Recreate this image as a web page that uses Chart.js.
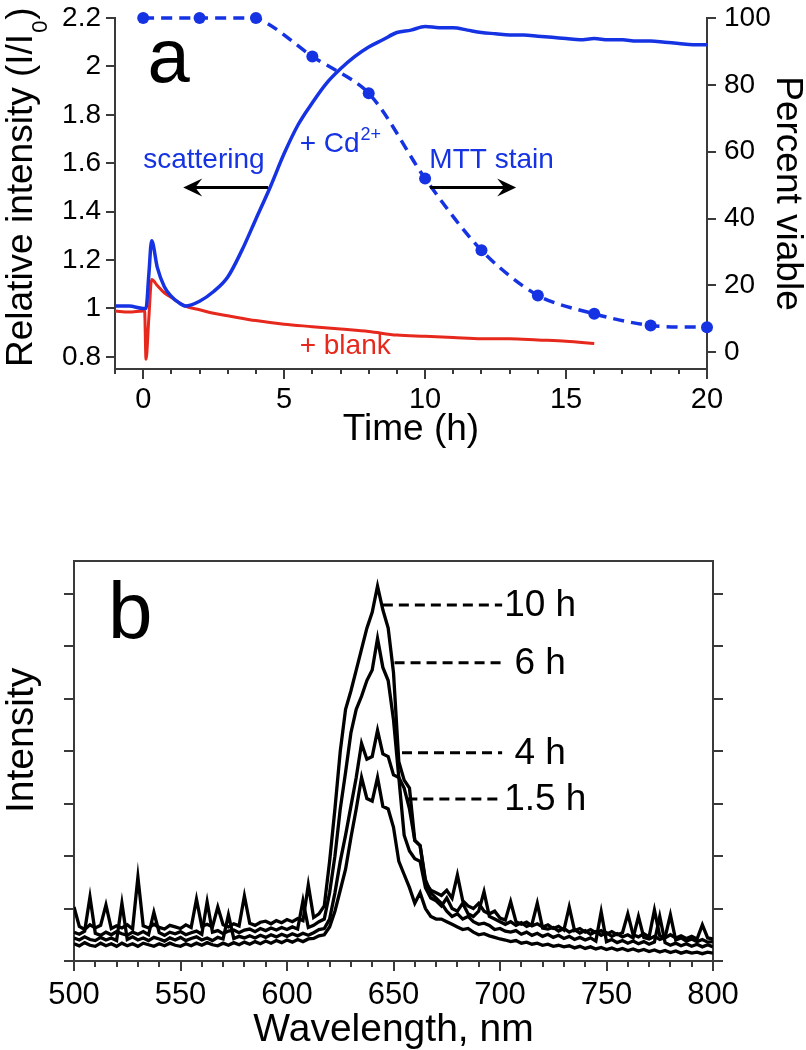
<!DOCTYPE html>
<html>
<head>
<meta charset="utf-8">
<title>Scattering and spectra</title>
<script src="https://cdn.jsdelivr.net/npm/chart.js@4.4.1/dist/chart.umd.min.js"></script>
<style>
  body { margin: 0; background: #fff; }
  #panelA { position: absolute; left: 0; top: 0; }
  #panelB { position: absolute; left: 0; top: 540px; }
</style>
</head>
<body>
<canvas id="panelA" width="806" height="460"></canvas>
<canvas id="panelB" width="806" height="510"></canvas>
<script>
// ---- panel a data ----
const cdTime = [-1, -0.5, 0, 0.1, 0.2, 0.3, 0.5, 0.75, 1, 1.25, 1.5, 2, 2.5, 3, 3.5, 4, 4.5, 5, 5.5, 6, 6.5, 7, 7.5, 8, 8.5, 9, 9.5, 10,
  10.5, 11, 11.5, 12, 12.5, 13, 13.5, 14, 14.5, 15, 15.5, 16, 16.5, 17, 17.5, 18, 18.5, 19, 19.5, 20];
const cdValues = [1.01, 1.01, 1.0, 1.0, 1.14, 1.28, 1.17, 1.09, 1.05, 1.025, 1.01, 1.03, 1.07, 1.13, 1.24, 1.37, 1.5, 1.64, 1.76, 1.85, 1.93, 1.99, 2.04, 2.08, 2.11, 2.14, 2.15, 2.165,
  2.16, 2.16, 2.15, 2.14, 2.135, 2.13, 2.13, 2.125, 2.12, 2.115, 2.11, 2.115, 2.11, 2.11, 2.105, 2.105, 2.1, 2.095, 2.09, 2.09];

const blankTime = [-1, -0.5, 0, 0.05, 0.1, 0.2, 0.3, 0.5, 0.75, 1, 1.5, 2, 2.5, 3, 4, 5, 6, 7, 8, 9, 10, 11, 12, 13, 14, 15, 16];
const blankValues = [0.99, 0.985, 0.99, 0.99, 0.79, 0.96, 1.12, 1.095, 1.065, 1.045, 1.01, 0.995, 0.98, 0.97, 0.95, 0.935, 0.925, 0.915, 0.905, 0.89, 0.885, 0.88, 0.875, 0.875, 0.87, 0.865, 0.855];

const mttTime = [0, 2, 4, 6, 8, 10, 12, 14, 16, 18, 20];
const mttValues = [100, 100, 100, 88.5, 77.5, 52, 30.5, 17, 11.5, 8, 7.5];

const timeTicks = [0, 5, 10, 15, 20];
const intensityTicks = [0.8, 1, 1.2, 1.4, 1.6, 1.8, 2, 2.2];
const viableTicks = [0, 20, 40, 60, 80, 100];

// ---- panel b data ----
const wavelength = [
  500, 502.5, 505, 507.5, 510, 512.5, 515, 517.5, 520, 522.5,
  525, 527.5, 530, 532.5, 535, 537.5, 540, 542.5, 545, 547.5,
  550, 552.5, 555, 557.5, 560, 562.5, 565, 567.5, 570, 572.5,
  575, 577.5, 580, 582.5, 585, 587.5, 590, 592.5, 595, 597.5,
  600, 602.5, 605, 607.5, 610, 612.5, 615, 617.5, 620, 622.5,
  625, 627.5, 630, 632.5, 635, 637.5, 640, 642.5, 645, 647.5,
  650, 652.5, 655, 657.5, 660, 662.5, 665, 667.5, 670, 672.5,
  675, 677.5, 680, 682.5, 685, 687.5, 690, 692.5, 695, 697.5,
  700, 702.5, 705, 707.5, 710, 712.5, 715, 717.5, 720, 722.5,
  725, 727.5, 730, 732.5, 735, 737.5, 740, 742.5, 745, 747.5,
  750, 752.5, 755, 757.5, 760, 762.5, 765, 767.5, 770, 772.5,
  775, 777.5, 780, 782.5, 785, 787.5, 790, 792.5, 795, 797.5,
  800];
const spec10h = [
  1.03, 0.66, 0.60, 0.69, 0.63, 0.68, 1.07, 0.62, 0.67, 0.63,
  0.69, 0.61, 1.60, 0.67, 0.63, 0.70, 0.64, 0.61, 0.68, 0.65,
  0.62, 0.69, 0.64, 1.18, 0.66, 0.70, 0.65, 1.03, 0.69, 0.65,
  0.71, 0.67, 1.24, 0.72, 0.68, 0.74, 0.76, 0.71, 0.77, 0.73,
  0.79, 0.75, 0.81, 0.77, 1.45, 0.83, 0.90, 1.05, 1.90, 2.90,
  4.00, 4.80, 5.15, 5.55, 5.95, 6.35, 6.65, 7.15, 6.70, 6.35,
  5.50, 3.80, 3.45, 3.30, 2.30, 2.20, 1.50, 1.35, 1.30, 1.25,
  1.35, 1.20, 1.64, 1.15, 1.05, 1.00, 1.10, 0.95, 0.90, 0.95,
  0.82, 0.78, 1.13, 0.75, 0.70, 0.74, 0.67, 0.71, 0.65, 0.69,
  0.62, 0.66, 0.59, 1.03, 0.58, 0.62, 0.55, 0.60, 0.54, 0.58,
  0.51, 0.56, 0.50, 0.54, 0.90, 0.50, 0.46, 0.52, 0.46, 0.97,
  0.48, 0.44, 0.50, 0.44, 0.48, 0.43, 0.47, 0.42, 0.69, 0.44,
  0.42];
const spec6h = [
  0.55, 0.51, 0.57, 1.22, 0.53, 0.49, 0.55, 0.50, 0.56, 0.52,
  0.49, 0.55, 0.51, 0.56, 0.50, 0.93, 0.54, 0.49, 0.55, 0.52,
  0.56, 0.50, 0.54, 0.57, 0.51, 1.13, 0.55, 0.58, 0.52, 0.57,
  0.59, 0.54, 0.59, 0.61, 0.56, 0.62, 0.58, 0.63, 0.59, 0.64,
  0.60, 0.65, 0.61, 1.15, 0.64, 0.68, 0.75, 0.80, 1.30, 2.00,
  2.90, 3.60, 4.35, 4.80, 5.05, 5.35, 5.55, 6.15, 5.60, 5.35,
  4.60, 3.50, 2.40, 2.10, 1.95, 1.90, 1.40, 1.20, 1.15, 1.05,
  1.20, 1.00, 0.95, 1.10, 0.90, 0.85, 0.95, 1.32, 0.85, 0.80,
  0.75, 0.70, 0.75, 0.68, 0.73, 0.66, 0.70, 1.10, 0.63, 0.61,
  0.64, 0.57, 0.62, 0.55, 0.60, 0.53, 0.58, 0.51, 0.56, 0.49,
  0.54, 0.47, 0.52, 0.46, 0.50, 0.44, 0.85, 0.45, 0.42, 0.47,
  0.41, 0.45, 0.88, 0.40, 0.44, 0.38, 0.42, 0.37, 0.41, 0.36,
  0.37];
const spec4h = [
  0.44, 0.40, 0.46, 0.41, 0.39, 0.45, 0.40, 0.44, 0.39, 1.10,
  0.41, 0.46, 0.40, 0.44, 0.39, 0.45, 0.42, 0.38, 0.44, 0.40,
  0.45, 0.39, 0.43, 0.46, 0.40, 0.44, 0.39, 0.45, 0.42, 0.88,
  0.43, 0.47, 0.44, 0.48, 0.44, 0.49, 0.45, 0.50, 0.46, 0.51,
  0.47, 0.52, 0.48, 0.53, 0.49, 0.54, 0.60, 0.62, 0.80, 1.30,
  1.90, 2.40, 2.95, 3.50, 4.15, 3.85, 3.90, 4.40, 3.95, 3.90,
  3.55, 3.50, 3.30, 2.90, 2.30, 2.20, 1.55, 1.30, 1.20, 1.10,
  0.95, 0.85, 0.90, 0.80, 0.85, 0.75, 0.70, 0.72, 0.68, 0.60,
  0.62, 0.57, 0.55, 0.58, 0.51, 0.55, 0.49, 0.53, 0.47, 0.51,
  0.45, 0.49, 0.43, 0.47, 0.41, 0.45, 0.40, 0.44, 0.38, 0.94,
  0.37, 0.41, 0.35, 0.39, 0.34, 0.38, 0.33, 0.37, 0.32, 0.36,
  0.85, 0.35, 0.30, 0.34, 0.29, 0.33, 0.28, 0.32, 0.27, 0.31,
  0.27];
const spec15h = [
  0.33, 0.29, 0.35, 0.30, 0.28, 0.34, 0.29, 0.33, 0.28, 0.34,
  0.29, 0.33, 0.28, 0.34, 0.31, 0.28, 0.33, 0.29, 0.34, 0.30,
  0.28, 0.33, 0.29, 0.34, 0.30, 0.35, 0.31, 0.29, 0.34, 0.30,
  0.35, 0.31, 0.36, 0.32, 0.37, 0.33, 0.38, 0.34, 0.39, 0.35,
  0.40, 0.36, 0.41, 0.37, 0.42, 0.43, 0.48, 0.50, 0.65, 0.95,
  1.35, 1.75, 2.35, 2.90, 3.50, 3.10, 3.05, 3.50, 2.95, 2.90,
  2.55, 1.90, 1.65, 1.40, 1.10, 1.30, 1.00, 0.85, 0.80, 0.80,
  0.75, 0.70, 0.65, 0.60, 0.62, 0.55, 0.50, 0.52, 0.48, 0.45,
  0.42, 0.40, 0.37, 0.39, 0.34, 0.36, 0.32, 0.34, 0.30, 0.32,
  0.28, 0.30, 0.27, 0.29, 0.25, 0.28, 0.24, 0.27, 0.23, 0.26,
  0.22, 0.25, 0.21, 0.24, 0.20, 0.23, 0.19, 0.22, 0.18, 0.21,
  0.17, 0.20, 0.16, 0.19, 0.15, 0.18, 0.15, 0.17, 0.14, 0.17,
  0.15];

// dashed leaders from each peak to its label
const leaderLabels = ['10 h', ' 6 h', ' 4 h', '1.5 h'];
const leaderStart = [645, 650.5, 654, 656.5];
const leaderEnd = 701;
const leaderLevel = [6.79, 5.69, 3.97, 3.09];

const wavelengthTicks = [500, 550, 600, 650, 700, 750, 800];
const spectrumTicks = [0, 1, 2, 3, 4, 5, 6, 7];

// ---- style ----
const BLUE = '#1533e3';
const RED = '#e6281d';
const AXIS = '#3a3a3a';
const FONT = '"Liberation Sans", Arial, sans-serif';
Chart.defaults.font.family = FONT;
Chart.defaults.color = '#000';

function pts(xs, ys) {
  return xs.map((x, i) => ({ x: x, y: ys[i] }));
}

// keep the plot area where the picture has it: no extra room for half labels
function fixWidth(w) {
  return s => { s.width = w; s.paddingTop = 0; s.paddingBottom = 0; };
}
function fixHeight(h) {
  return s => { s.height = h; s.paddingLeft = 0; s.paddingRight = 0; };
}

// short unlabeled ticks between the labeled ones
function minorTicks(axis, from, to, step, major, len) {
  return {
    id: 'minor_' + axis,
    afterDraw(chart) {
      const s = chart.scales[axis];
      const ctx = chart.ctx;
      ctx.save();
      ctx.strokeStyle = AXIS;
      ctx.lineWidth = 2;
      ctx.beginPath();
      for (let v = from; v <= to + 1e-9; v += step) {
        const r = v / major;
        if (Math.abs(r - Math.round(r)) < 1e-6) continue;
        const px = Math.round(s.getPixelForValue(v));
        ctx.moveTo(px, s.top);
        ctx.lineTo(px, s.top + len);
      }
      ctx.stroke();
      ctx.restore();
    }
  };
}

function arrow(ctx, x1, x2, y) {
  const d = Math.sign(x2 - x1);
  ctx.beginPath();
  ctx.moveTo(x1, y);
  ctx.lineTo(x2 - d * 10, y);
  ctx.stroke();
  ctx.beginPath();
  ctx.moveTo(x2, y);
  ctx.lineTo(x2 - d * 19, y - 9);
  ctx.lineTo(x2 - d * 12, y);
  ctx.lineTo(x2 - d * 19, y + 9);
  ctx.closePath();
  ctx.fill();
}

const panelALabels = {
  id: 'panelALabels',
  afterDraw(chart) {
    const ctx = chart.ctx;
    const x = chart.scales.x, y = chart.scales.y;
    ctx.save();

    // left axis title with subscript
    ctx.translate(32, 367);
    ctx.rotate(-Math.PI / 2);
    ctx.fillStyle = '#000';
    ctx.textBaseline = 'alphabetic';
    ctx.textAlign = 'left';
    ctx.font = '37px ' + FONT;
    const main = 'Relative intensity (I/I';
    ctx.fillText(main, 0, 0);
    let w = ctx.measureText(main).width;
    ctx.font = '22px ' + FONT;
    ctx.fillText('0', w + 1, 15);
    w += ctx.measureText('0').width + 2;
    ctx.font = '37px ' + FONT;
    ctx.fillText(')', w, 0);
    ctx.setTransform(1, 0, 0, 1, 0, 0);

    // panel letter
    ctx.font = '76px ' + FONT;
    ctx.fillText('a', x.getPixelForValue(0.15), y.getPixelForValue(1.935));

    // annotations
    ctx.font = '28px ' + FONT;
    ctx.fillStyle = BLUE;
    ctx.fillText('scattering', x.getPixelForValue(0.0), y.getPixelForValue(1.58));
    ctx.fillText('MTT stain', x.getPixelForValue(10.15), y.getPixelForValue(1.58));
    const cdX = x.getPixelForValue(5.55), cdY = y.getPixelForValue(1.645);
    ctx.fillText('+ Cd', cdX, cdY);
    const cdW = ctx.measureText('+ Cd').width;
    ctx.font = '18px ' + FONT;
    ctx.fillText('2+', cdX + cdW + 1, cdY - 12);
    ctx.font = '28px ' + FONT;
    ctx.fillStyle = RED;
    ctx.fillText('+ blank', x.getPixelForValue(5.55), y.getPixelForValue(0.81));

    // arrows pointing to each axis
    ctx.strokeStyle = '#000';
    ctx.fillStyle = '#000';
    ctx.lineWidth = 3;
    const ay = y.getPixelForValue(1.5);
    arrow(ctx, x.getPixelForValue(4.43), x.getPixelForValue(1.42), ay);
    arrow(ctx, x.getPixelForValue(10.18), x.getPixelForValue(13.23), ay);
    ctx.restore();
  }
};

new Chart(document.getElementById('panelA'), {
  type: 'line',
  data: {
    datasets: [
      {
        label: '+ Cd2+',
        data: pts(cdTime, cdValues),
        xAxisID: 'x', yAxisID: 'y',
        borderColor: BLUE, borderWidth: 3.5,
        pointRadius: 0, cubicInterpolationMode: 'monotone'
      },
      {
        label: '+ blank',
        data: pts(blankTime, blankValues),
        xAxisID: 'x', yAxisID: 'y',
        borderColor: RED, borderWidth: 3,
        pointRadius: 0, cubicInterpolationMode: 'monotone'
      },
      {
        label: 'MTT stain',
        data: pts(mttTime, mttValues),
        xAxisID: 'x', yAxisID: 'y2',
        borderColor: BLUE, borderWidth: 3.5, borderDash: [11, 7],
        pointRadius: 6, pointBackgroundColor: BLUE, pointBorderWidth: 0,
        tension: 0.3, clip: false
      }
    ]
  },
  options: {
    responsive: false,
    animation: false,
    layout: { padding: { top: 18, left: 0, right: 0, bottom: 0 } },
    plugins: { legend: { display: false }, tooltip: { enabled: false } },
    scales: {
      x: {
        type: 'linear', min: -1, max: 20,
        afterBuildTicks: s => { s.ticks = timeTicks.map(v => ({ value: v })); },
        afterFit: fixHeight(91),
        grid: { drawOnChartArea: false, tickLength: 10, color: AXIS, lineWidth: 2 },
        border: { color: AXIS, width: 2 },
        ticks: { font: { size: 29 }, color: '#000', padding: 4, maxRotation: 0 },
        title: { display: true, text: 'Time (h)', font: { size: 37 }, color: '#000', padding: { top: 0, bottom: 8 } }
      },
      y: {
        position: 'left', min: 0.75, max: 2.2,
        afterBuildTicks: s => { s.ticks = intensityTicks.map(v => ({ value: v })); },
        afterFit: fixWidth(115),
        grid: { drawOnChartArea: false, tickLength: 9, color: AXIS, lineWidth: 2 },
        border: { color: AXIS, width: 2 },
        ticks: { font: { size: 28 }, color: '#000', padding: 5, callback: v => String(Math.round(v * 10) / 10) }
      },
      y2: {
        position: 'right', min: -5, max: 100,
        afterBuildTicks: s => { s.ticks = viableTicks.map(v => ({ value: v })); },
        afterFit: fixWidth(99),
        grid: { drawOnChartArea: false, tickLength: 9, color: AXIS, lineWidth: 2 },
        border: { color: AXIS, width: 2 },
        ticks: { font: { size: 28 }, color: '#000', padding: 8 },
        title: { display: true, text: 'Percent viable', font: { size: 37, lineHeight: 1 }, color: '#000', padding: 0 }
      }
    }
  },
  plugins: [panelALabels, minorTicks('x', -1, 20, 1, 5, 5)]
});

// ---- panel b ----
const panelBLabels = {
  id: 'panelBLabels',
  afterDraw(chart) {
    const ctx = chart.ctx;
    const x = chart.scales.x, y = chart.scales.y;
    ctx.save();
    ctx.fillStyle = '#000';
    ctx.textAlign = 'left';
    ctx.textBaseline = 'alphabetic';

    ctx.translate(33, 273);
    ctx.rotate(-Math.PI / 2);
    ctx.font = '39px ' + FONT;
    ctx.fillText('Intensity', 0, 0);
    ctx.setTransform(1, 0, 0, 1, 0, 0);

    ctx.font = '80px ' + FONT;
    ctx.fillText('b', x.getPixelForValue(516), y.getPixelForValue(6.16));

    ctx.font = '37px ' + FONT;
    ctx.textBaseline = 'middle';
    leaderLabels.forEach((t, i) => {
      ctx.fillText(t, x.getPixelForValue(leaderEnd) + 2, y.getPixelForValue(leaderLevel[i]) + 1);
    });
    ctx.restore();
  }
};

const spectrumSets = [spec10h, spec6h, spec4h, spec15h].map(vals => ({
  data: pts(wavelength, vals),
  xAxisID: 'x', yAxisID: 'y',
  borderColor: '#000', borderWidth: 3.3, pointRadius: 0, tension: 0
}));
const leaderSets = leaderStart.map((s, i) => ({
  data: [{ x: s, y: leaderLevel[i] }, { x: leaderEnd, y: leaderLevel[i] }],
  xAxisID: 'x', yAxisID: 'y',
  borderColor: '#000', borderWidth: 3, borderDash: [10, 6], pointRadius: 0
}));

const frameGrid = { drawOnChartArea: false, tickLength: 10, color: AXIS, lineWidth: 2 };

new Chart(document.getElementById('panelB'), {
  type: 'line',
  data: { datasets: spectrumSets.concat(leaderSets) },
  options: {
    responsive: false,
    animation: false,
    layout: { padding: { top: 21, left: 0, right: 0, bottom: 0 } },
    plugins: { legend: { display: false }, tooltip: { enabled: false } },
    scales: {
      x: {
        type: 'linear', position: 'bottom', min: 500, max: 800,
        afterBuildTicks: s => { s.ticks = wavelengthTicks.map(v => ({ value: v })); },
        afterFit: fixHeight(89),
        grid: frameGrid,
        border: { color: AXIS, width: 2 },
        ticks: { font: { size: 31 }, color: '#000', padding: 6, maxRotation: 0 },
        title: { display: true, text: 'Wavelength, nm', font: { size: 39, lineHeight: 1 }, color: '#000', padding: 0 }
      },
      xTop: {
        type: 'linear', position: 'top', min: 500, max: 800,
        afterFit: fixHeight(0),
        grid: { drawOnChartArea: false, drawTicks: false },
        border: { color: AXIS, width: 2 },
        ticks: { display: false }
      },
      y: {
        type: 'linear', position: 'left', min: 0, max: 7.63,
        afterBuildTicks: s => { s.ticks = spectrumTicks.map(v => ({ value: v })); },
        afterFit: fixWidth(74),
        grid: frameGrid,
        border: { color: AXIS, width: 2 },
        ticks: { display: false }
      },
      yR: {
        type: 'linear', position: 'right', min: 0, max: 7.63,
        afterBuildTicks: s => { s.ticks = spectrumTicks.map(v => ({ value: v })); },
        afterFit: fixWidth(93),
        grid: frameGrid,
        border: { color: AXIS, width: 2 },
        ticks: { display: false }
      }
    }
  },
  plugins: [panelBLabels, minorTicks('x', 500, 800, 10, 50, 6)]
});
</script>
</body>
</html>
